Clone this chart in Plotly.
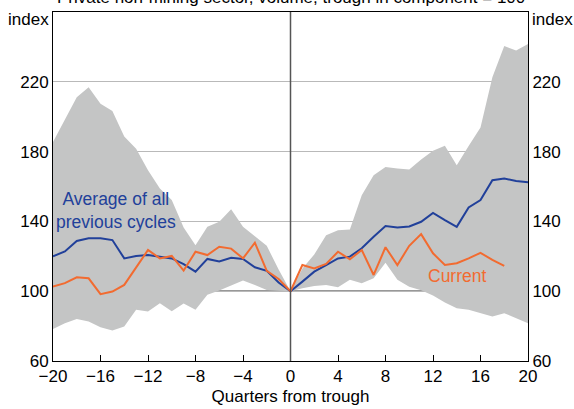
import plotly.graph_objects as go

quarters = list(range(-20, 21))

band_upper = [185.5, 198.5, 211.2, 216.9, 207.4, 203.2, 188.7, 181.7, 169.3, 158.9,
              152.2, 136.5, 126.4, 136.9, 139.8, 146.9, 137.0, 131.5, 126.0, 112.5,
              100.0, 113.0, 121.0, 132.0, 135.0, 135.4, 155.0, 166.5, 171.2, 170.3,
              169.7, 175.5, 180.5, 183.4, 172.2, 183.2, 193.8, 222.6, 240.5, 237.9,
              241.7]
band_lower = [78.3, 81.7, 84.0, 82.6, 79.4, 77.5, 79.8, 89.3, 88.4, 93.1,
              88.5, 93.0, 89.3, 97.9, 100.4, 103.4, 106.2, 103.6, 100.7, 100.2,
              100.0, 101.7, 103.0, 103.6, 102.3, 106.5, 104.6, 107.4, 116.3, 106.5,
              102.5, 100.5, 97.5, 93.5, 90.3, 89.3, 87.4, 85.5, 87.4, 84.6,
              81.7]
average = [120.0, 122.8, 128.8, 130.3, 130.4, 129.3, 118.8, 120.2, 120.7, 119.6,
           118.8, 115.5, 111.2, 118.5, 117.1, 119.1, 118.5, 113.7, 111.7, 105.0,
           100.0, 105.5, 111.2, 115.0, 118.8, 119.8, 124.6, 131.2, 137.3, 136.5,
           137.1, 139.8, 144.9, 140.7, 136.9, 148.0, 152.2, 163.6, 164.6, 163.2,
           162.5]
current = [102.6, 104.6, 108.0, 107.4, 98.3, 99.8, 103.6, 113.7, 123.6, 118.8,
           120.2, 111.8, 122.6, 120.7, 125.5, 124.4, 118.8, 127.8, 111.7, 107.0,
           100.0, 115.0, 113.1, 115.6, 122.6, 118.3, 123.6, 109.3, 125.2, 115.0,
           126.0, 132.7, 121.7, 115.0, 116.0, 118.8, 122.0, 117.9, 114.5]
current_q = quarters[:len(current)]

y_ticks = [60, 100, 140, 180, 220]
x_ticks = [-20, -16, -12, -8, -4, 0, 4, 8, 12, 16, 20]

BLUE = "#21409a"
ORANGE = "#f26b30"
GREY = "#c4c5c5"
FONT = "Arial, Liberation Sans, sans-serif"
FS = 17

fig = go.Figure()
fig.add_trace(go.Scatter(x=quarters, y=band_lower, mode="lines",
                         line=dict(width=0, color=GREY), hoverinfo="skip", showlegend=False))
fig.add_trace(go.Scatter(x=quarters, y=band_upper, mode="lines", fill="tonexty",
                         fillcolor=GREY, line=dict(width=0, color=GREY), showlegend=False))
fig.add_trace(go.Scatter(x=quarters, y=average, mode="lines",
                         line=dict(color=BLUE, width=2), showlegend=False))
fig.add_trace(go.Scatter(x=current_q, y=current, mode="lines",
                         line=dict(color=ORANGE, width=2), showlegend=False))
fig.add_trace(go.Scatter(x=[0], y=[100], yaxis="y2", mode="markers",
                         marker=dict(opacity=0), hoverinfo="skip", showlegend=False))

axis_common = dict(range=[60, 260], tickvals=y_ticks,
                   showline=True, linecolor="#000000", linewidth=1,
                   ticks="", tickfont=dict(family=FONT, size=FS, color="#000000"),
                   zeroline=False, fixedrange=True)

fig.update_layout(
    width=574, height=409,
    margin=dict(l=53, r=46, t=12, b=48, autoexpand=False),
    paper_bgcolor="white", plot_bgcolor="white",
    font=dict(family=FONT, color="#000000"),
    xaxis=dict(range=[-20, 20], tickvals=x_ticks, ticks="inside", ticklen=6,
               tickcolor="#000000", showline=True, linecolor="#000000", linewidth=1,
               mirror=True, showgrid=False, zeroline=False,
               tickfont=dict(family=FONT, size=FS, color="#000000"),
               title=dict(text="Quarters from trough", font=dict(family=FONT, size=FS),
                          standoff=4)),
    yaxis=dict(**axis_common, side="left", showgrid=True,
               gridcolor="#b9b9b9", gridwidth=1),
    yaxis2=dict(**axis_common, side="right", overlaying="y", showgrid=False),
)

# darker reference line at 100, beneath the shaded band
fig.add_shape(type="line", xref="x", yref="y", x0=-20, x1=20, y0=100, y1=100,
              line=dict(color="#333333", width=1.5), layer="below")
# vertical line at trough
fig.add_shape(type="line", xref="x", yref="paper", x0=0, x1=0, y0=0, y1=1,
              line=dict(color="#555555", width=1.5), layer="above")

fig.add_annotation(x=-14.7, y=146, xref="x", yref="y",
                   text="Average of all<br>previous cycles", showarrow=False,
                   font=dict(family=FONT, size=17.5, color=BLUE), align="center")
fig.add_annotation(x=14, y=108.5, xref="x", yref="y", text="Current", showarrow=False,
                   font=dict(family=FONT, size=17.5, color=ORANGE))
fig.add_annotation(x=0, y=1, xref="paper", yref="paper", xanchor="right", yanchor="bottom",
                   xshift=-2, yshift=-19, text="index", showarrow=False,
                   font=dict(family=FONT, size=FS))
fig.add_annotation(x=1, y=1, xref="paper", yref="paper", xanchor="left", yanchor="bottom",
                   xshift=2, yshift=-19, text="index", showarrow=False,
                   font=dict(family=FONT, size=FS))
fig.add_annotation(x=0.5, y=1, xref="paper", yref="paper", xanchor="center",
                   yanchor="bottom", yshift=3,
                   text="Private non-mining sector, volume, trough in component = 100",
                   showarrow=False, font=dict(family=FONT, size=FS))

fig.write_html("out.html", config={"displayModeBar": False},
               post_script="document.body.style.margin='0';")
